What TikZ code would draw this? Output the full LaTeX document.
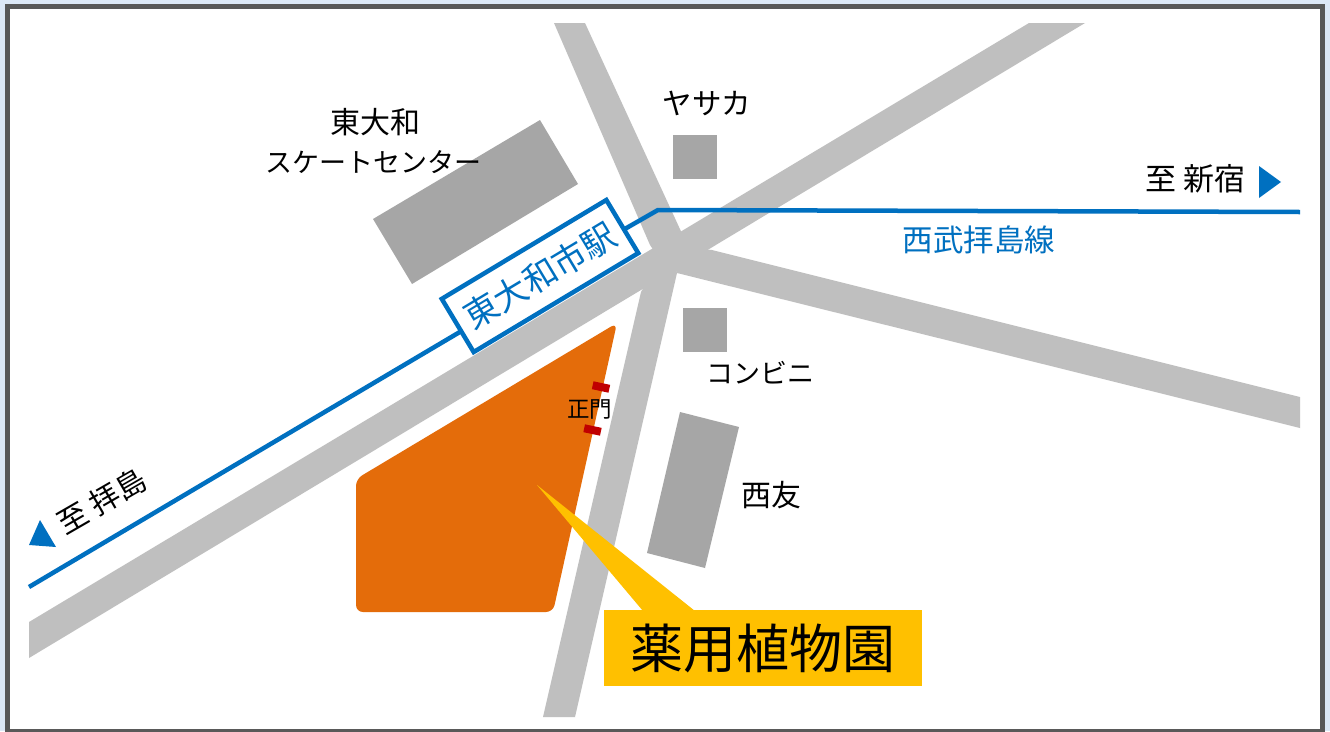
\documentclass[tikz,border=0pt]{standalone}
\usepackage{fontspec}
\setmainfont{Noto Sans CJK JP}
\definecolor{road}{HTML}{BFBFBF}
\definecolor{bldg}{HTML}{A6A6A6}
\definecolor{rail}{HTML}{0070C0}
\definecolor{garden}{HTML}{E46C0A}
\definecolor{gate}{HTML}{C00000}
\definecolor{callout}{HTML}{FFC000}
\definecolor{frame}{HTML}{595959}
\definecolor{desk}{HTML}{DDE9F7}
\newcommand{\fs}[1]{\fontsize{#1}{#1}\selectfont}
\tikzset{
  roadway/.style={fill=road},
  building/.style={fill=bldg},
  railway/.style={draw=rail,line width=4.5pt,line join=miter},
  marker/.style={fill=rail},
  lbl/.style={inner sep=0pt,outer sep=0pt,text=black},
  raillbl/.style={lbl,text=rail},
  gatebar/.style={fill=gate,minimum width=17pt,minimum height=8pt,inner sep=0pt,rotate=-12},
  stationbox/.style={draw=rail,line width=4.5pt,fill=white,minimum width=192pt,minimum height=62pt,inner sep=0pt,outer sep=0pt,rotate=31,text=rail,font=\fs{34}},
  calloutbox/.style={fill=callout,minimum width=318pt,minimum height=76pt,inner sep=0pt,outer sep=0pt,font=\fs{53},text=black}
}
\begin{document}
\begin{tikzpicture}[x=1pt,y=-1pt]
\useasboundingbox (0,0) rectangle (1330,731);
\fill[desk] (0,0) rectangle (1330,731);
\draw[frame,fill=white,line width=5pt] (7.5,6.5) rectangle (1322.5,731.5);
% roads
\fill[roadway] (29,622) -- (1029,23) -- (1085,23) -- (29,658) -- cycle;
\fill[roadway] (554,23) -- (585,23) -- (685,240) -- (670,275) -- (650,245) -- cycle;
\fill[roadway] (543,717) -- (575,717) -- (677,273) -- (670,240) -- (641,292) -- cycle;
\fill[roadway] (1300,397) -- (1300,428) -- (677,273) -- (665,245) -- (712,250) -- cycle;
% buildings
\fill[building] (373,219) -- (540,120) -- (578,184) -- (412,284) -- cycle;
\fill[building] (673,135) rectangle (717,179);
\fill[building] (683,308) rectangle (727,352);
\fill[building] (680,412) -- (739,427) -- (705,568) -- (647,553) -- cycle;
% garden
\fill[garden,rounded corners=7pt] (617,323) -- (356,479) -- (356,612) -- (553,612) -- cycle;
\node[gatebar] (gateA) at (601,387) {};
\node[gatebar] (gateB) at (592.5,430) {};
\node[lbl,font=\fs{22.5}] (seimon) at (589.5,409) {正門};
% railway
\node[stationbox] (station) at (540,276) {東大和市駅};
\coordinate (railW) at (29,587);
\coordinate (railBend) at (658,210);
\coordinate (railE) at (1300,212);
\draw[railway] (railW) -- (station.184);
\draw[railway] (station.-2.4) -- (railBend) -- (railE);
\fill[marker] (1259,166) -- (1281,182) -- (1259,198) -- cycle;
\fill[marker] (40,520) -- (29,545) -- (56,547) -- cycle;
% callout
\node[calloutbox] (callout) at (763,648) {\raisebox{-2pt}{薬用植物園}};
\coordinate (tip) at (537,485);
\fill[callout] (tip) -- (695,611) -- (643,611) -- cycle;
% labels
\node[lbl,font=\fs{30}] (skateA) at (375,122) {東大和};
\node[lbl,font=\fs{27}] (skateB) at (373,162) {スケートセンター};
\node[lbl,font=\fs{29.5}] (yasaka) at (707,103) {ヤサカ};
\node[lbl,font=\fs{27}] (conv) at (760,373) {コンビニ};
\node[lbl,font=\fs{30}] (seiyu) at (771,495) {西友};
\node[lbl,font=\fs{31}] (shinjuku) at (1195.5,179) {至 新宿};
\node[lbl,font=\fs{30},rotate=30] (haijima) at (102,501) {至 拝島};
\node[raillbl,font=\fs{30.5}] (line) at (979,240) {西武拝島線};
\end{tikzpicture}
\end{document}
